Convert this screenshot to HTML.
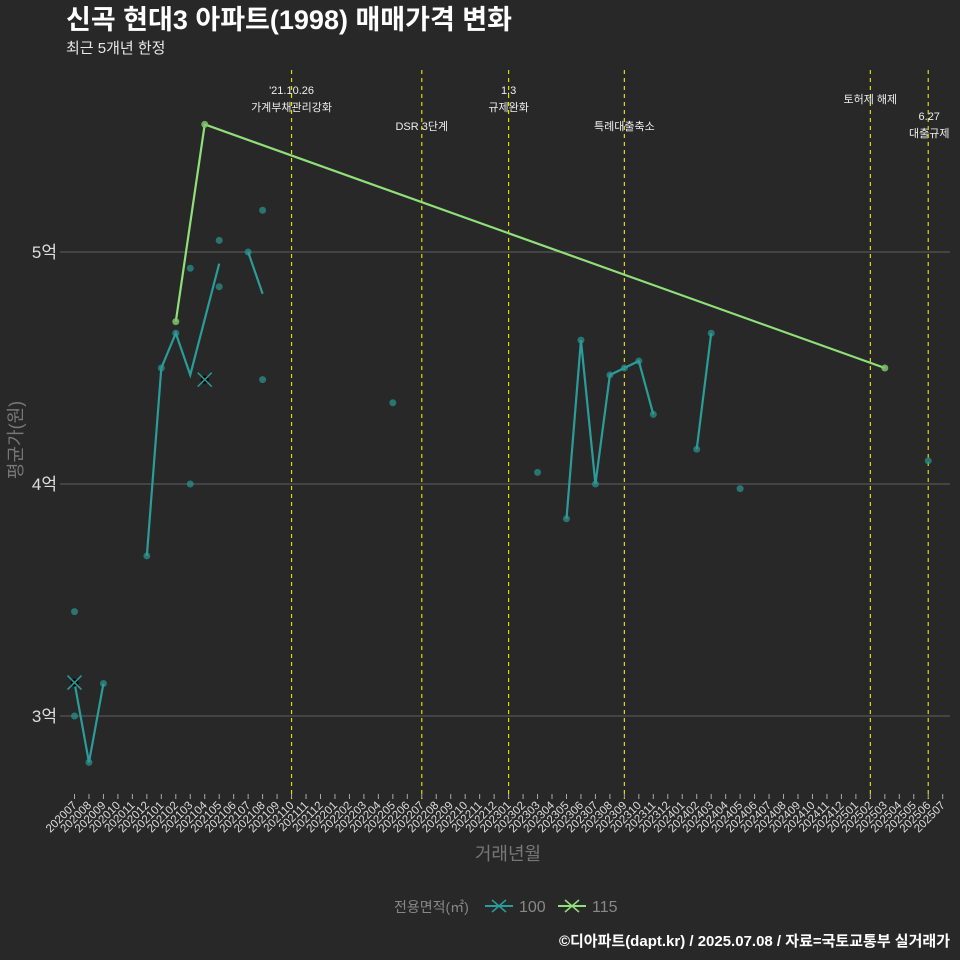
<!DOCTYPE html>
<html><head><meta charset="utf-8"><style>
body{margin:0;background:#282828;overflow:hidden;}
svg text{font-family:"Liberation Sans","Noto Sans CJK KR",sans-serif;}
</style></head><body>
<svg id="chart" width="960" height="960" xmlns="http://www.w3.org/2000/svg" style="display:block">
<rect x="0" y="0" width="960" height="960" fill="#282828"/>
<text x="66" y="29" font-size="27" font-weight="bold" fill="#ffffff">신곡 현대3 아파트(1998) 매매가격 변화</text>
<text x="66" y="53" font-size="15" fill="#e8e8e8">최근 5개년 한정</text>
<g id="grid"></g><g id="xaxis"></g><g id="vlines"></g><g id="series"></g><g id="yaxis"></g>
<text transform="translate(22,440) rotate(-90)" text-anchor="middle" font-size="18" fill="#777">평균가(원)</text>
<text x="508" y="860" text-anchor="middle" font-size="18" fill="#777">거래년월</text>
<g>
<text x="394" y="912" font-size="14" fill="#888">전용면적(㎡)</text>
<g><line x1="485" y1="906" x2="513" y2="906" stroke="#2a9d9a" stroke-width="2"/><path d="M492 900 L506 912 M506 900 L492 912" stroke="#2a9d9a" stroke-width="1.5"/><text x="519" y="912" font-size="16" fill="#888">100</text></g>
<g><line x1="558" y1="906" x2="586" y2="906" stroke="#90e07a" stroke-width="2"/><path d="M565 900 L579 912 M579 900 L565 912" stroke="#90e07a" stroke-width="1.5"/><text x="592" y="912" font-size="16" fill="#888">115</text></g>
</g>
<text x="950" y="946" text-anchor="end" font-size="15" font-weight="bold" fill="#ffffff">©디아파트(dapt.kr) / 2025.07.08 / 자료=국토교통부 실거래가</text>
</svg>
<script>
const months=[];for(let y=2020,m=7;months.length<61;){months.push(y+String(m).padStart(2,'0'));m++;if(m>12){m=1;y++;}}
const yTicks=[3,4,5];
const yTickLabels=['3억','4억','5억'];
const line100Months=['202007','202008','202009',null,'202012','202101','202102','202103','202105',null,'202107','202108',null,'202305','202306','202307','202308','202309','202310','202311',null,'202402','202403'];
const line100Values=[3.144,2.80,3.14,null,3.69,4.50,4.65,4.47,4.95,null,5.0,4.82,null,3.85,4.62,4.0,4.47,4.50,4.53,4.30,null,4.15,4.65];
const dot100Months=['202007','202007','202008','202009','202012','202101','202102','202103','202103','202105','202105','202107','202108','202108','202205','202303','202305','202306','202307','202308','202309','202310','202311','202402','202403','202405','202506'];
const dot100Values=[3.45,3.0,2.80,3.14,3.69,4.50,4.65,4.93,4.0,5.05,4.85,5.0,5.18,4.45,4.35,4.05,3.85,4.62,4.0,4.47,4.50,4.53,4.30,4.15,4.65,3.98,4.10];
const cross100Months=['202007','202104'];
const cross100Values=[3.144,4.45];
const line115Months=['202102','202104','202503'];
const line115Values=[4.70,5.55,4.50];
const eventMonths=['202110','202207','202301','202309','202502','202506'];
const eventLabels=[["'21.10.26","가계부채관리강화"],["DSR 3단계"],["1.3","규제완화"],["특례대출축소"],["토허제 해제"],["6.27","대출규제"]];
const eventLabelY=[94,130,94,130,103,120];
const NS='http://www.w3.org/2000/svg';
const X0=74.5,XS=14.47;
function xs(m){return X0+months.indexOf(m)*XS;}
function ys(v){return 484-(v-4)*232;}
function mk(tag,attrs,parent){const e=document.createElementNS(NS,tag);for(const k in attrs)e.setAttribute(k,attrs[k]);document.getElementById(parent).appendChild(e);return e;}
yTicks.forEach((t,i)=>{
 const g=mk('line',{x1:60,x2:950,y1:ys(t),y2:ys(t),stroke:'#555','stroke-width':1.2},'grid');
 
 
 const l=mk('text',{x:57,y:ys(t)+6,'text-anchor':'end','font-size':17,fill:'#ddd'},'yaxis');
 l.textContent=yTickLabels[i];
 
 
});
months.forEach(m=>{
 const x=xs(m);
 const t=mk('line',{x1:x,x2:x,y1:794,y2:799,stroke:'#aaa','stroke-width':1},'xaxis');
 
 
 const l=mk('text',{transform:`translate(${x+3},806) rotate(-45)`,'text-anchor':'end','font-size':11.5,fill:'#ddd'},'xaxis');
 l.textContent=m;
 
 
});
eventMonths.forEach((m,i)=>{
 const x=xs(m);
 const v=mk('line',{x1:x,x2:x,y1:70,y2:799,stroke:'#dddd00','stroke-width':1.2,'stroke-dasharray':'4,4'},'vlines');
 
 
 eventLabels[i].forEach((s,j)=>{
  const t=mk('text',{x:x+(i==5?1:0),y:eventLabelY[i]+j*17,'text-anchor':'middle','font-size':11,fill:'#eee'},'vlines');
  t.textContent=s;
  
  
 });
});
function path(ms,vs){let d='',pen=false;ms.forEach((m,i)=>{if(m===null||vs[i]===null){pen=false;return;}d+=(pen?'L':'M')+xs(m)+' '+ys(vs[i])+' ';pen=true;});return d;}
dot100Months.forEach((m,i)=>{
 const c=mk('circle',{cx:xs(m),cy:ys(dot100Values[i]),r:3.5,fill:'#2a8f8a','fill-opacity':0.75},'series');
 
 
});
const p1=mk('path',{d:path(line100Months,line100Values),fill:'none',stroke:'#2a9d9a','stroke-width':2.2},'series');


cross100Months.forEach((m,i)=>{
 const x=xs(m),y=ys(cross100Values[i]);
 const b=mk('circle',{cx:x,cy:y,r:4,fill:'#000'},'series');
 
 
 const c=mk('path',{d:`M${x-7} ${y-7} L${x+7} ${y+7} M${x+7} ${y-7} L${x-7} ${y+7}`,stroke:'#2a9d9a','stroke-width':1.5},'series');
 
 
});
const p2=mk('path',{d:path(line115Months,line115Values),fill:'none',stroke:'#90e07a','stroke-width':2.2},'series');


line115Months.forEach((m,i)=>{
 const c=mk('circle',{cx:xs(m),cy:ys(line115Values[i]),r:3.5,fill:'#7cc46a','fill-opacity':0.85},'series');
 
 
});
</script>
</body></html>
